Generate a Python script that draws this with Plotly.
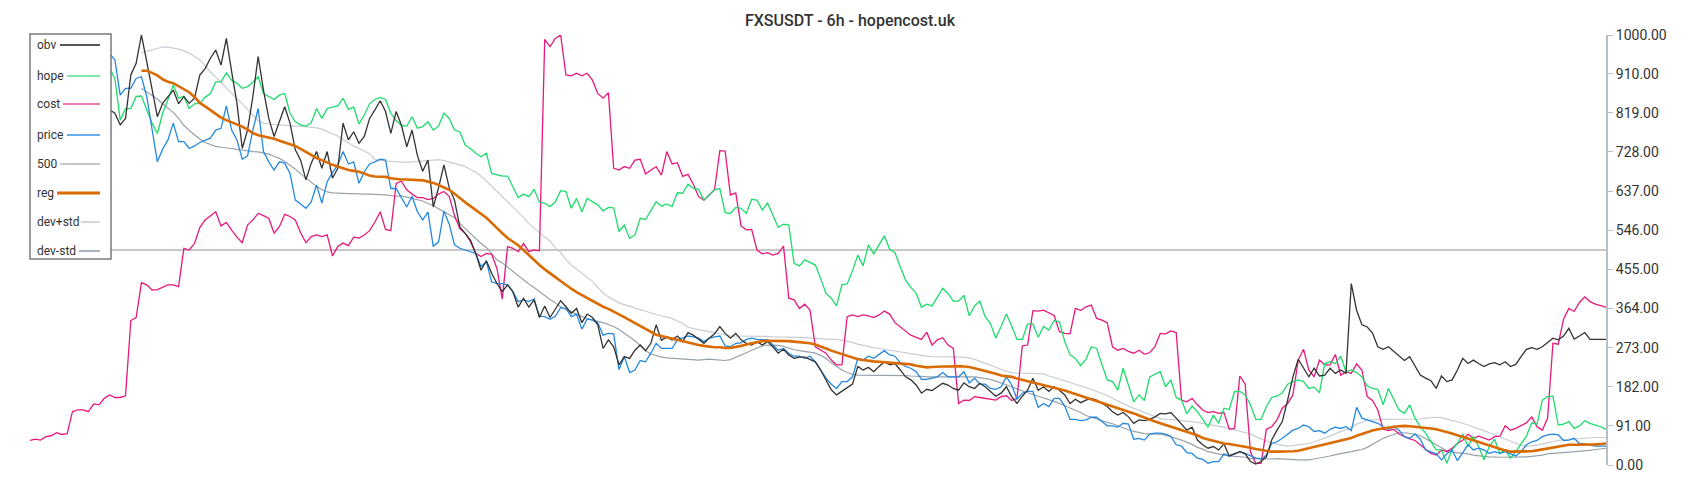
import plotly.graph_objects as go

N = 298
idx = list(range(N))

cost = [
    57, 60, 58, 66, 68, 75, 71, 73, 124, 128,
    128, 124, 142, 140, 155, 163, 157, 157, 161, 336,
    343, 424, 419, 407, 408, 413, 419, 419, 415, 504,
    500, 515, 552, 570, 580, 589, 556, 564, 546, 530,
    517, 558, 570, 585, 580, 574, 539, 554, 583, 578,
    570, 540, 517, 531, 535, 531, 535, 486, 508, 516,
    510, 530, 528, 535, 545, 565, 589, 548, 545, 655,
    660, 640, 630, 622, 622, 617, 620, 630, 636, 625,
    580, 550, 539, 520, 492, 485, 492, 490, 457, 386,
    508, 504, 496, 515, 496, 500, 498, 990, 973, 992,
    1000, 907, 905, 911, 905, 911, 895, 864, 853, 866,
    690, 686, 694, 690, 709, 711, 677, 685, 694, 674,
    729, 700, 703, 671, 676, 653, 624, 616, 628, 640,
    731, 730, 628, 633, 556, 547, 548, 500, 491, 494,
    488, 492, 509, 388, 384, 364, 374, 360, 275, 267,
    260, 244, 233, 233, 345, 349, 345, 349, 347, 343,
    349, 358, 351, 331, 322, 312, 302, 297, 292, 309,
    279, 291, 296, 279, 271, 143, 151, 150, 159, 157,
    155, 153, 151, 159, 161, 150, 155, 277, 279, 359,
    358, 360, 353, 348, 310, 306, 305, 364, 359, 368,
    372, 341, 337, 331, 275, 267, 271, 264, 260, 267,
    258, 261, 275, 306, 305, 312, 308, 151, 147, 155,
    140, 128, 122, 124, 120, 122, 83, 85, 207, 188,
    30, 4, 4, 83, 89, 105, 132, 143, 163, 244,
    269, 221, 205, 244, 233, 233, 257, 209, 217, 213,
    235, 221, 159, 150, 128, 83, 80, 83, 72, 66,
    61, 57, 47, 35, 27, 23, 35, 31, 39, 50,
    58, 72, 62, 67, 62, 58, 66, 67, 91, 81,
    85, 91, 98, 112, 89, 81, 109, 283, 281, 339,
    364, 357, 378, 391, 380, 374, 370, 367,
]

hope = [
    940, 945, 935, 950, 940, 930, 945, 955, 940, 930,
    935, 945, 950, 940, 930, 922, 899, 802, 829, 829,
    857, 858, 826, 795, 771, 818, 850, 884, 853, 857,
    829, 840, 841, 855, 864, 891, 891, 912, 895, 888,
    876, 880, 890, 903, 864, 857, 850, 860, 864, 818,
    798, 791, 788, 796, 829, 806, 829, 832, 835, 853,
    827, 832, 793, 814, 840, 850, 855, 850, 818, 801,
    790, 788, 810, 783, 787, 798, 779, 788, 818, 806,
    779, 775, 744, 736, 725, 717, 725, 678, 675, 672,
    672, 646, 622, 630, 624, 641, 611, 609, 601, 612,
    638, 636, 597, 620, 589, 620, 612, 605, 591, 599,
    598, 543, 558, 527, 535, 574, 571, 593, 612, 602,
    607, 601, 633, 632, 653, 643, 641, 616, 628, 640,
    643, 587, 585, 599, 597, 585, 618, 616, 593, 609,
    581, 553, 560, 558, 469, 463, 477, 470, 465, 434,
    399, 388, 370, 419, 421, 452, 488, 463, 512, 491,
    512, 533, 502, 494, 461, 430, 413, 399, 367, 374,
    370, 391, 411, 399, 381, 381, 395, 347, 370, 381,
    345, 329, 295, 322, 351, 323, 292, 292, 328, 328,
    297, 322, 314, 336, 333, 287, 256, 248, 231, 246,
    275, 271, 236, 198, 194, 174, 225, 186, 147, 163,
    150, 205, 212, 217, 182, 198, 157, 151, 119, 137,
    124, 106, 88, 116, 97, 132, 129, 171, 171, 163,
    140, 106, 106, 136, 157, 160, 168, 188, 194, 198,
    194, 178, 181, 168, 236, 240, 236, 253, 217, 221,
    215, 205, 184, 178, 176, 140, 178, 153, 128, 120,
    140, 109, 89, 74, 54, 35, 35, 4, 36, 50,
    72, 43, 66, 43, 12, 43, 60, 27, 35, 16,
    31, 50, 67, 98, 95, 151, 159, 160, 93, 95,
    101, 85, 91, 103, 97, 93, 89, 83,
]

price = [
    985, 990, 975, 980, 970, 965, 975, 985, 978, 968,
    960, 965, 972, 968, 962, 957, 942, 860, 876, 876,
    899, 903, 857, 780, 705, 735, 756, 795, 752, 752,
    736, 742, 750, 755, 760, 779, 783, 835, 779, 756,
    711, 719, 779, 829, 729, 705, 686, 705, 702, 678,
    616, 607, 597, 612, 651, 609, 659, 680, 698, 729,
    700, 705, 655, 682, 700, 705, 711, 709, 643, 643,
    620, 600, 625, 589, 570, 588, 508, 519, 590, 560,
    512, 504, 500, 496, 492, 461, 473, 426, 422, 422,
    419, 403, 380, 384, 380, 386, 346, 345, 339, 346,
    366, 364, 345, 351, 316, 339, 337, 331, 302, 306,
    305, 222, 252, 215, 221, 243, 240, 260, 283, 271,
    271, 271, 291, 295, 300, 298, 295, 287, 295, 298,
    300, 277, 275, 283, 284, 292, 295, 292, 291, 291,
    279, 267, 271, 260, 253, 253, 248, 253, 240, 221,
    202, 188, 178, 194, 194, 205, 248, 244, 253, 248,
    256, 266, 256, 253, 238, 229, 225, 217, 199, 199,
    202, 205, 215, 205, 205, 205, 217, 191, 202, 188,
    188, 178, 176, 182, 205, 186, 153, 167, 171, 171,
    134, 143, 136, 155, 155, 137, 106, 106, 103, 105,
    111, 111, 101, 91, 91, 88, 97, 95, 60, 62,
    58, 72, 74, 74, 72, 67, 47, 44, 29, 27,
    16, 13, 4, 8, 8, 26, 21, 26, 31, 27,
    21, 16, 13, 23, 50, 54, 62, 72, 81, 85,
    93, 89, 78, 80, 74, 83, 88, 85, 89, 80,
    134, 109, 105, 101, 97, 89, 83, 89, 81, 66,
    62, 72, 60, 35, 31, 26, 12, 26, 35, 10,
    29, 47, 35, 39, 35, 27, 31, 27, 31, 26,
    21, 31, 47, 54, 57, 66, 70, 72, 70, 57,
    58, 62, 50, 49, 47, 44, 44, 44,
]

obv = [
    870, 860, 880, 850, 840, 870, 860, 845, 855, 835,
    840, 830, 850, 835, 830, 826, 818, 791, 806, 907,
    934, 1000, 938, 870, 810, 841, 856, 872, 840, 857,
    841, 853, 907, 922, 946, 965, 930, 992, 915, 841,
    736, 779, 857, 950, 872, 806, 764, 798, 833, 795,
    733, 709, 663, 702, 729, 690, 729, 667, 690, 795,
    756, 775, 748, 764, 806, 826, 847, 822, 771, 822,
    790, 740, 779, 720, 683, 709, 600, 645, 698, 645,
    616, 554, 539, 523, 492, 453, 475, 446, 422, 403,
    419, 403, 367, 388, 367, 384, 343, 370, 343, 364,
    382, 368, 353, 364, 331, 351, 343, 326, 271, 291,
    275, 233, 252, 248, 267, 279, 266, 283, 326, 290,
    298, 291, 300, 287, 308, 302, 292, 283, 295, 305,
    322, 306, 295, 306, 291, 283, 279, 287, 279, 287,
    275, 260, 269, 256, 248, 251, 251, 245, 240, 221,
    198, 175, 163, 171, 180, 188, 229, 221, 227, 217,
    229, 240, 233, 236, 221, 205, 198, 186, 167, 176,
    173, 182, 190, 186, 178, 174, 191, 182, 178, 190,
    182, 171, 160, 167, 182, 159, 143, 160, 174, 202,
    174, 182, 171, 182, 174, 163, 143, 153, 145, 151,
    155, 151, 143, 136, 124, 116, 122, 112, 97, 105,
    103, 106, 112, 120, 119, 122, 109, 95, 81, 88,
    58, 47, 39, 43, 35, 49, 21, 26, 31, 26,
    8, 2, 8, 19, 58, 81, 101, 151, 205, 246,
    225, 205, 225, 207, 209, 225, 213, 221, 213, 422,
    360, 326, 321, 307, 275, 269, 275, 264, 252, 243,
    252, 230, 209, 202, 196, 178, 207, 194, 198, 221,
    248, 236, 244, 236, 229, 235, 238, 233, 240, 229,
    234, 252, 269, 273, 269, 275, 284, 295, 291, 300,
    318, 293, 300, 308, 292, 292, 292, 292,
]

ref500 = [500] * N

reg = [None] * 21 + [
    917, 917, 912, 906, 897, 891, 888, 881, 873,
    867, 856, 842, 834, 825, 817, 808, 802, 797, 791,
    787, 780, 772, 767, 764, 761, 759, 754, 750, 747,
    742, 735, 728, 721, 714, 709, 703, 698, 694, 690,
    686, 684, 682, 678, 673, 671, 671, 670, 667, 665,
    664, 664, 663, 663, 662, 659, 656, 651, 646, 640,
    631, 620, 611, 602, 593, 584, 575, 563, 550, 539,
    528, 520, 511, 500, 488, 476, 465, 455, 447, 437,
    428, 418, 410, 402, 395, 387, 380, 374, 368, 363,
    357, 351, 344, 337, 330, 322, 315, 308, 303, 300,
    297, 293, 290, 287, 284, 281, 279, 277, 275, 274,
    274, 272, 272, 274, 277, 280, 283, 286, 288, 289,
    289, 289, 289, 288, 287, 286, 285, 283, 280, 276,
    271, 266, 262, 258, 253, 249, 246, 244, 242, 241,
    240, 239, 238, 237, 236, 235, 234, 231, 229, 227,
    228, 229, 229, 229, 230, 230, 229, 228, 225, 222,
    219, 216, 212, 208, 206, 205, 201, 198, 195, 192,
    189, 186, 183, 180, 177, 173, 169, 165, 160, 156,
    152, 149, 145, 141, 137, 133, 128, 124, 120, 115,
    110, 105, 101, 97, 93, 89, 85, 81, 77, 73,
    69, 63, 60, 57, 54, 50, 49, 47, 44, 42,
    40, 37, 35, 33, 31, 31, 31, 31, 32, 33,
    36, 39, 42, 44, 47, 50, 54, 57, 60, 63,
    68, 72, 77, 80, 83, 85, 88, 89, 90, 91,
    90, 89, 88, 87, 85, 83, 80, 77, 73, 69,
    65, 61, 57, 53, 49, 45, 41, 37, 34, 31,
    31, 31, 31, 32, 34, 36, 38, 41, 43, 45,
    47, 47, 47, 47, 47, 48, 49, 50,
]

dev_plus = [None] * 21 + [
    959, 962, 965, 969, 972, 972, 970, 967, 963,
    958, 950, 942, 929, 914, 902, 889, 876, 864, 852,
    840, 828, 814, 800, 795, 793, 792, 791, 789, 788,
    788, 788, 787, 786, 784, 781, 776, 771, 765, 757,
    749, 742, 736, 730, 724, 710, 708, 707, 706, 705,
    704, 704, 705, 706, 708, 709, 709, 710, 708, 705,
    702, 698, 694, 688, 681, 672, 660, 649, 637, 625,
    612, 600, 588, 576, 562, 551, 539, 530, 521, 505,
    494, 478, 465, 455, 447, 437, 427, 413, 400, 391,
    384, 377, 373, 369, 365, 362, 358, 354, 350, 347,
    344, 341, 335, 329, 321, 317, 315, 313, 310, 308,
    305, 303, 300, 300, 300, 300, 300, 300, 300, 299,
    298, 298, 298, 298, 298, 297, 296, 295, 294, 293,
    292, 292, 292, 290, 288, 285, 281, 278, 275, 273,
    271, 269, 267, 265, 263, 261, 259, 256, 255, 253,
    252, 252, 252, 252, 252, 252, 251, 249, 246, 241,
    237, 233, 228, 222, 218, 215, 214, 213, 213, 213,
    212, 212, 207, 204, 200, 196, 192, 188, 185, 180,
    176, 171, 167, 161, 155, 148, 142, 137, 132, 127,
    122, 117, 112, 108, 106, 106, 105, 103, 102, 101,
    99, 97, 95, 93, 90, 88, 85, 82, 79, 75,
    72, 66, 61, 55, 51, 48, 46, 44, 45, 47,
    48, 50, 54, 58, 62, 67, 73, 78, 82, 87,
    95, 100, 104, 105, 106, 106, 106, 106, 106, 106,
    106, 106, 107, 109, 110, 111, 110, 107, 104, 101,
    97, 93, 89, 85, 80, 75, 70, 66, 61, 56,
    50, 46, 43, 44, 46, 49, 52, 55, 57, 59,
    60, 61, 62, 62, 63, 64, 64, 64,
]

dev_minus = [None] * 21 + [
    876, 868, 861, 851, 840, 830, 820, 806, 790,
    778, 767, 758, 750, 745, 741, 739, 738, 736, 734,
    732, 730, 729, 728, 726, 723, 718, 713, 706, 698,
    688, 677, 667, 657, 648, 640, 635, 633, 632, 632,
    631, 631, 630, 630, 630, 630, 629, 628, 627, 625,
    626, 623, 620, 617, 614, 608, 603, 596, 589, 582,
    575, 562, 550, 538, 527, 515, 506, 492, 477, 470,
    460, 452, 440, 430, 421, 413, 403, 394, 385, 377,
    368, 362, 356, 350, 345, 341, 337, 334, 331, 327,
    322, 315, 307, 299, 289, 278, 266, 258, 254, 251,
    249, 248, 247, 246, 245, 244, 244, 245, 246, 245,
    244, 243, 245, 250, 256, 261, 267, 272, 277, 279,
    279, 278, 276, 272, 268, 266, 264, 262, 260, 255,
    248, 238, 229, 221, 215, 211, 209, 209, 209, 209,
    209, 209, 209, 209, 208, 208, 207, 207, 206, 205,
    205, 205, 205, 205, 205, 205, 205, 205, 205, 203,
    201, 199, 195, 191, 187, 182, 177, 172, 168, 164,
    160, 156, 153, 148, 143, 138, 132, 127, 122, 115,
    111, 106, 103, 99, 96, 91, 87, 82, 78, 75,
    73, 72, 72, 72, 69, 66, 62, 58, 53, 48,
    41, 37, 31, 28, 26, 23, 21, 20, 19, 18,
    15, 16, 15, 14, 14, 15, 14, 13, 12, 12,
    12, 12, 14, 16, 19, 21, 24, 26, 29, 31,
    34, 36, 41, 48, 56, 62, 67, 71, 75, 75,
    74, 72, 68, 62, 55, 47, 40, 33, 30, 29,
    27, 26, 23, 21, 20, 19, 18, 18, 18, 18,
    18, 18, 19, 20, 21, 23, 26, 27, 27, 28,
    29, 30, 31, 33, 34, 36, 37, 39,
]

y_ticks = [0, 91, 182, 273, 364, 455, 546, 637, 728, 819, 910, 1000]

series = {"cost": cost, "hope": hope, "price": price, "obv": obv,
          "reg": reg, "dev+std": dev_plus, "dev-std": dev_minus}
bad = {k: len(v) for k, v in series.items() if len(v) != N}
if bad:
    raise ValueError(f"length mismatch: {bad}")

fig = go.Figure()

def add(name, y, color, width):
    fig.add_trace(go.Scatter(x=idx, y=y, mode="lines", name=name,
                             line=dict(color=color, width=width),
                             showlegend=False, hoverinfo="skip"))

add("500", ref500, "#c8c8c8", 2)
add("dev+std", dev_plus, "#c8cdd2", 1.2)
add("dev-std", dev_minus, "#98a2ab", 1.2)
add("cost", cost, "#e8197d", 1.3)
add("hope", hope, "#1edc6c", 1.3)
add("price", price, "#2488e0", 1.3)
add("obv", obv, "#333333", 1.3)
add("reg", reg, "#d96b00", 2.6)

# plot geometry in pixels
W, H = 1700, 500
L, R, T, B = 30, 94, 35, 35
pw, ph = W - L - R, H - T - B

def px(xp):
    return (xp - L) / pw

def py(yp):
    return (H - B - yp) / ph

shapes = [dict(type="rect", xref="paper", yref="paper",
               x0=px(30), x1=px(111), y0=py(259), y1=py(34),
               fillcolor="white", line=dict(color="#7a7a7a", width=1.5),
               layer="above")]
annotations = []
legend_items = [
    ("obv", 45, 60, "#555555", 2),
    ("hope", 76, 67, "#7ee8a9", 2),
    ("cost", 104, 63, "#f07ab8", 2),
    ("price", 135, 67, "#6aaef0", 2),
    ("500", 164, 60, "#c8c8c8", 2),
    ("reg", 193, 57, "#d96b00", 3),
    ("dev+std", 222, 81, "#d5d9dd", 2),
    ("dev-std", 251, 79, "#a9b3bc", 2),
]
for name, yc, x0, col, w in legend_items:
    annotations.append(dict(text=name, xref="paper", yref="paper",
                            x=px(35), y=py(yc), xanchor="left", yanchor="middle",
                            showarrow=False,
                            font=dict(family="Roboto", size=12, color="#333333")))
    shapes.append(dict(type="line", xref="paper", yref="paper",
                       x0=px(x0), x1=px(100), y0=py(yc), y1=py(yc),
                       line=dict(color=col, width=w), layer="above"))

fig.update_layout(
    width=W, height=H, autosize=False,
    margin=dict(l=L, r=R, t=T, b=B, pad=0),
    paper_bgcolor="white", plot_bgcolor="white",
    title=dict(text="FXSUSDT - 6h - hopencost.uk", x=0.5, xanchor="center",
               y=1 - 20 / H, yanchor="middle",
               font=dict(family="Roboto", size=16, color="#333333", weight=500)),
    xaxis=dict(visible=False, range=[0, N - 1], showgrid=False, zeroline=False),
    yaxis=dict(side="right", range=[0, 1000], showgrid=False, zeroline=False,
               showline=True, linecolor="#b6bec6", linewidth=2,
               ticks="outside", ticklen=5, tickwidth=1, tickcolor="#b6bec6",
               tickvals=y_ticks, ticktext=[f"{v:.2f}" for v in y_ticks],
               tickfont=dict(family="Roboto", size=14, color="#333333")),
    shapes=shapes,
    annotations=annotations,
)

fig.write_html(
    "out.html",
    config={"displayModeBar": False},
    post_script="document.body.style.margin='0';document.body.style.overflow='hidden';",
)
